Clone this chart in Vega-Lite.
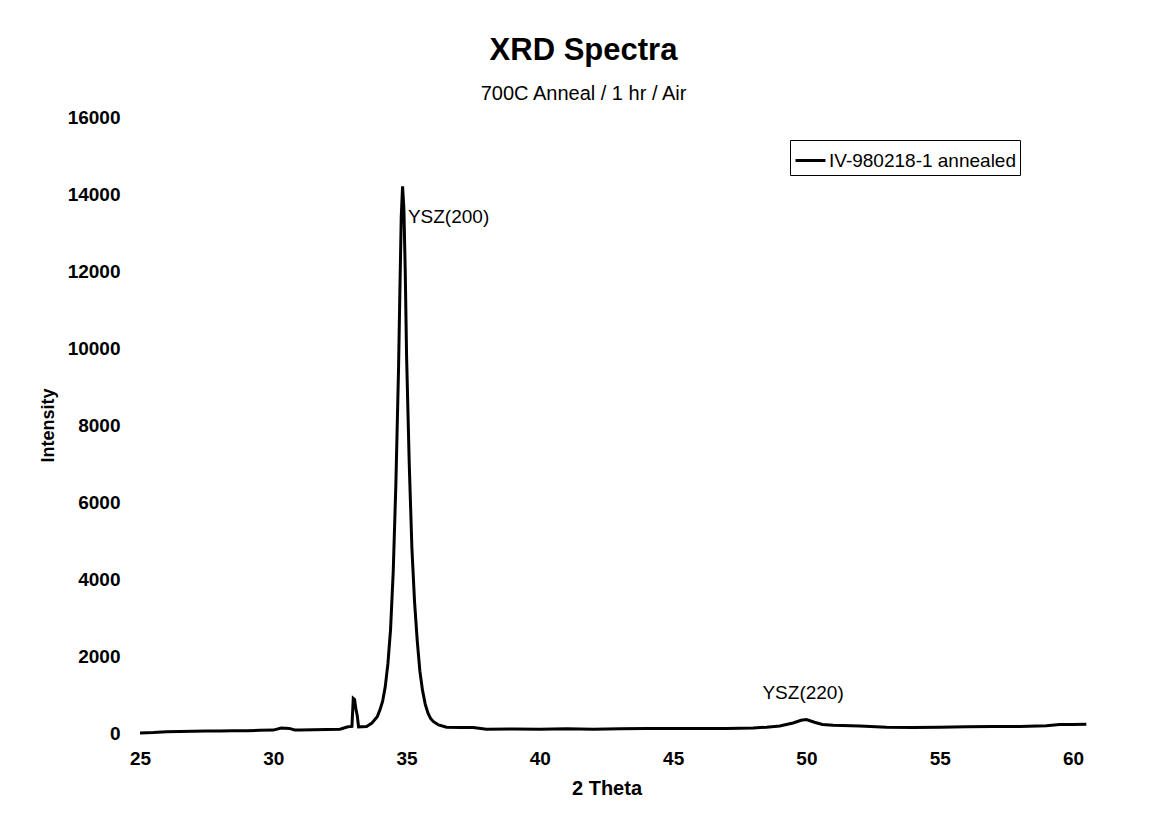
{
  "$schema": "https://vega.github.io/schema/vega-lite/v6.json",
  "autosize": "none",
  "padding": {"left": 140, "top": 117, "right": 83, "bottom": 90},
  "width": 933,
  "height": 616,
  "background": "white",
  "config": {
    "view": {"stroke": null},
    "font": "Liberation Sans",
    "axis": {"grid": false, "domain": false, "ticks": false, "labelFlush": false, "labelFont": "Liberation Sans", "titleFont": "Liberation Sans", "labelColor": "black", "titleColor": "black"}
  },
  "title": {
    "text": "XRD  Spectra",
    "subtitle": "700C Anneal / 1 hr / Air",
    "anchor": "middle",
    "dx": -23,
    "fontSize": 31,
    "fontWeight": "bold",
    "font": "Liberation Sans",
    "color": "black",
    "subtitleFont": "Liberation Sans",
    "subtitleFontSize": 20,
    "subtitleColor": "black",
    "subtitlePadding": 17,
    "offset": 3
  },
  "datasets": {
    "xrd": [
      {"theta": 25.0, "intensity": 0, "series": "IV-980218-1 annealed"},
      {"theta": 25.5, "intensity": 10, "series": "IV-980218-1 annealed"},
      {"theta": 26.0, "intensity": 30, "series": "IV-980218-1 annealed"},
      {"theta": 26.5, "intensity": 40, "series": "IV-980218-1 annealed"},
      {"theta": 27.0, "intensity": 45, "series": "IV-980218-1 annealed"},
      {"theta": 27.5, "intensity": 50, "series": "IV-980218-1 annealed"},
      {"theta": 28.0, "intensity": 55, "series": "IV-980218-1 annealed"},
      {"theta": 28.5, "intensity": 60, "series": "IV-980218-1 annealed"},
      {"theta": 29.0, "intensity": 60, "series": "IV-980218-1 annealed"},
      {"theta": 29.5, "intensity": 70, "series": "IV-980218-1 annealed"},
      {"theta": 30.0, "intensity": 75, "series": "IV-980218-1 annealed"},
      {"theta": 30.3, "intensity": 130, "series": "IV-980218-1 annealed"},
      {"theta": 30.6, "intensity": 120, "series": "IV-980218-1 annealed"},
      {"theta": 30.8, "intensity": 80, "series": "IV-980218-1 annealed"},
      {"theta": 31.0, "intensity": 80, "series": "IV-980218-1 annealed"},
      {"theta": 31.5, "intensity": 85, "series": "IV-980218-1 annealed"},
      {"theta": 32.0, "intensity": 90, "series": "IV-980218-1 annealed"},
      {"theta": 32.5, "intensity": 100, "series": "IV-980218-1 annealed"},
      {"theta": 32.8, "intensity": 160, "series": "IV-980218-1 annealed"},
      {"theta": 32.95, "intensity": 170, "series": "IV-980218-1 annealed"},
      {"theta": 33.0, "intensity": 900, "series": "IV-980218-1 annealed"},
      {"theta": 33.05, "intensity": 870, "series": "IV-980218-1 annealed"},
      {"theta": 33.1, "intensity": 620, "series": "IV-980218-1 annealed"},
      {"theta": 33.15, "intensity": 450, "series": "IV-980218-1 annealed"},
      {"theta": 33.2, "intensity": 160, "series": "IV-980218-1 annealed"},
      {"theta": 33.5, "intensity": 170, "series": "IV-980218-1 annealed"},
      {"theta": 33.7, "intensity": 260, "series": "IV-980218-1 annealed"},
      {"theta": 33.9, "intensity": 420, "series": "IV-980218-1 annealed"},
      {"theta": 34.0, "intensity": 600, "series": "IV-980218-1 annealed"},
      {"theta": 34.1, "intensity": 820, "series": "IV-980218-1 annealed"},
      {"theta": 34.2, "intensity": 1200, "series": "IV-980218-1 annealed"},
      {"theta": 34.3, "intensity": 1800, "series": "IV-980218-1 annealed"},
      {"theta": 34.4, "intensity": 2700, "series": "IV-980218-1 annealed"},
      {"theta": 34.5, "intensity": 4200, "series": "IV-980218-1 annealed"},
      {"theta": 34.6, "intensity": 6500, "series": "IV-980218-1 annealed"},
      {"theta": 34.7, "intensity": 9500, "series": "IV-980218-1 annealed"},
      {"theta": 34.75, "intensity": 11500, "series": "IV-980218-1 annealed"},
      {"theta": 34.8, "intensity": 13400, "series": "IV-980218-1 annealed"},
      {"theta": 34.85, "intensity": 14200, "series": "IV-980218-1 annealed"},
      {"theta": 34.9, "intensity": 13600, "series": "IV-980218-1 annealed"},
      {"theta": 34.95, "intensity": 12000, "series": "IV-980218-1 annealed"},
      {"theta": 35.0, "intensity": 9800, "series": "IV-980218-1 annealed"},
      {"theta": 35.1, "intensity": 7000, "series": "IV-980218-1 annealed"},
      {"theta": 35.2, "intensity": 4800, "series": "IV-980218-1 annealed"},
      {"theta": 35.3, "intensity": 3400, "series": "IV-980218-1 annealed"},
      {"theta": 35.4, "intensity": 2400, "series": "IV-980218-1 annealed"},
      {"theta": 35.5, "intensity": 1600, "series": "IV-980218-1 annealed"},
      {"theta": 35.6, "intensity": 1100, "series": "IV-980218-1 annealed"},
      {"theta": 35.7, "intensity": 750, "series": "IV-980218-1 annealed"},
      {"theta": 35.8, "intensity": 520, "series": "IV-980218-1 annealed"},
      {"theta": 35.9, "intensity": 380, "series": "IV-980218-1 annealed"},
      {"theta": 36.0, "intensity": 300, "series": "IV-980218-1 annealed"},
      {"theta": 36.2, "intensity": 210, "series": "IV-980218-1 annealed"},
      {"theta": 36.5, "intensity": 150, "series": "IV-980218-1 annealed"},
      {"theta": 37.0, "intensity": 140, "series": "IV-980218-1 annealed"},
      {"theta": 37.5, "intensity": 140, "series": "IV-980218-1 annealed"},
      {"theta": 38.0, "intensity": 100, "series": "IV-980218-1 annealed"},
      {"theta": 39.0, "intensity": 105, "series": "IV-980218-1 annealed"},
      {"theta": 40.0, "intensity": 100, "series": "IV-980218-1 annealed"},
      {"theta": 41.0, "intensity": 110, "series": "IV-980218-1 annealed"},
      {"theta": 42.0, "intensity": 100, "series": "IV-980218-1 annealed"},
      {"theta": 43.0, "intensity": 110, "series": "IV-980218-1 annealed"},
      {"theta": 44.0, "intensity": 115, "series": "IV-980218-1 annealed"},
      {"theta": 45.0, "intensity": 115, "series": "IV-980218-1 annealed"},
      {"theta": 46.0, "intensity": 120, "series": "IV-980218-1 annealed"},
      {"theta": 47.0, "intensity": 120, "series": "IV-980218-1 annealed"},
      {"theta": 48.0, "intensity": 130, "series": "IV-980218-1 annealed"},
      {"theta": 48.5, "intensity": 150, "series": "IV-980218-1 annealed"},
      {"theta": 49.0, "intensity": 180, "series": "IV-980218-1 annealed"},
      {"theta": 49.5, "intensity": 260, "series": "IV-980218-1 annealed"},
      {"theta": 49.8, "intensity": 330, "series": "IV-980218-1 annealed"},
      {"theta": 50.0, "intensity": 350, "series": "IV-980218-1 annealed"},
      {"theta": 50.3, "intensity": 280, "series": "IV-980218-1 annealed"},
      {"theta": 50.6, "intensity": 220, "series": "IV-980218-1 annealed"},
      {"theta": 51.0, "intensity": 200, "series": "IV-980218-1 annealed"},
      {"theta": 52.0, "intensity": 180, "series": "IV-980218-1 annealed"},
      {"theta": 53.0, "intensity": 150, "series": "IV-980218-1 annealed"},
      {"theta": 54.0, "intensity": 140, "series": "IV-980218-1 annealed"},
      {"theta": 55.0, "intensity": 150, "series": "IV-980218-1 annealed"},
      {"theta": 56.0, "intensity": 160, "series": "IV-980218-1 annealed"},
      {"theta": 57.0, "intensity": 170, "series": "IV-980218-1 annealed"},
      {"theta": 58.0, "intensity": 170, "series": "IV-980218-1 annealed"},
      {"theta": 59.0, "intensity": 190, "series": "IV-980218-1 annealed"},
      {"theta": 59.5, "intensity": 220, "series": "IV-980218-1 annealed"},
      {"theta": 60.0, "intensity": 220, "series": "IV-980218-1 annealed"},
      {"theta": 60.5, "intensity": 230, "series": "IV-980218-1 annealed"}
    ],
    "labels": [
      {"theta": 35.05, "intensity": 13400, "label": "YSZ(200)"},
      {"theta": 48.35, "intensity": 1040, "label": "YSZ(220)"}
    ]
  },
  "layer": [
    {
      "data": {"name": "xrd"},
      "mark": {"type": "line", "color": "black", "strokeWidth": 3, "clip": false, "interpolate": "linear"},
      "encoding": {
        "x": {
          "field": "theta", "type": "quantitative",
          "scale": {"domain": [25, 60], "nice": false, "zero": false},
          "axis": {"title": "2  Theta", "values": [25, 30, 35, 40, 45, 50, 55, 60], "labelFontSize": 19, "labelFontWeight": "bold", "labelPadding": 16, "titleFontSize": 20, "titleFontWeight": "bold", "titlePadding": 10}
        },
        "y": {
          "field": "intensity", "type": "quantitative",
          "scale": {"domain": [0, 16000], "nice": false},
          "axis": {"title": "Intensity", "values": [0, 2000, 4000, 6000, 8000, 10000, 12000, 14000, 16000], "format": "d", "labelFontSize": 19, "labelFontWeight": "bold", "labelPadding": 20, "titleFontSize": 18, "titleFontWeight": "bold", "titlePadding": 10}
        },
        "color": {
          "field": "series", "type": "nominal",
          "scale": {"range": ["black"]},
          "legend": {"title": null, "orient": "none", "legendX": 650, "legendY": 23, "symbolType": "stroke", "symbolSize": 900, "symbolStrokeWidth": 3, "labelFontSize": 19, "labelLimit": 400, "labelFont": "Liberation Sans", "labelColor": "black", "strokeColor": "black", "padding": 4, "labelOffset": 2}
        }
      }
    },
    {
      "data": {"name": "labels"},
      "mark": {"type": "text", "align": "left", "baseline": "middle", "fontSize": 19, "font": "Liberation Sans", "color": "black"},
      "encoding": {
        "x": {"field": "theta", "type": "quantitative"},
        "y": {"field": "intensity", "type": "quantitative"},
        "text": {"field": "label"}
      }
    }
  ]
}
